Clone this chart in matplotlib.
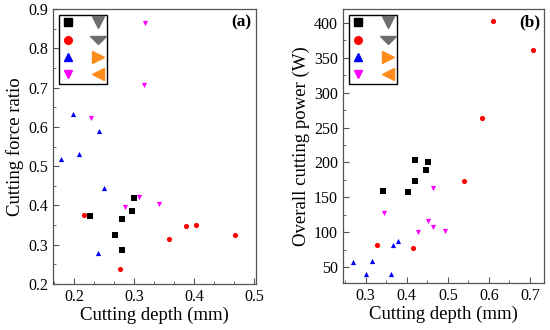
import numpy as np
import matplotlib
matplotlib.use('Agg')
import matplotlib.pyplot as plt
from matplotlib.lines import Line2D
from matplotlib.markers import MarkerStyle
from matplotlib.transforms import Affine2D
from matplotlib.ticker import MultipleLocator, AutoMinorLocator

plt.rcParams['font.family'] = ['Liberation Serif', 'DejaVu Serif']

# (a) cutting force ratio vs cutting depth
a_sq_x = [0.227, 0.279, 0.268, 0.279, 0.296, 0.299]
a_sq_y = [0.374, 0.365, 0.324, 0.287, 0.386, 0.420]
a_ci_x = [0.216, 0.276, 0.358, 0.386, 0.403, 0.468]
a_ci_y = [0.377, 0.239, 0.315, 0.348, 0.350, 0.326]
a_up_x = [0.178, 0.197, 0.207, 0.242, 0.250, 0.239]
a_up_y = [0.518, 0.632, 0.530, 0.589, 0.444, 0.279]
a_dn_x = [0.318, 0.316, 0.228, 0.308, 0.284, 0.342]
a_dn_y = [0.863, 0.707, 0.622, 0.422, 0.397, 0.405]

# (b) overall cutting power vs cutting depth
b_sq_x = [0.342, 0.404, 0.421, 0.420, 0.446, 0.451]
b_sq_y = [159, 158, 173, 204, 189, 201]
b_ci_x = [0.327, 0.416, 0.540, 0.582, 0.610, 0.707]
b_ci_y = [81, 77, 174, 263, 402, 361]
b_up_x = [0.270, 0.301, 0.316, 0.362, 0.366, 0.378]
b_up_y = [57, 40, 59, 40, 81, 87]
b_dn_x = [0.344, 0.428, 0.452, 0.464, 0.463, 0.494]
b_dn_y = [127, 101, 116, 108, 164, 102]

fig = plt.figure(figsize=(5.5, 3.3), dpi=100)
ax_a = fig.add_axes([0.0964, 0.139, 0.369, 0.834])
ax_b = fig.add_axes([0.623, 0.142, 0.366, 0.831])

styles = [('s', 'black'), ('o', 'red'), ('^', 'blue'), ('v', 'magenta')]


def legend_handles():
    flat_v = MarkerStyle('v', transform=Affine2D().scale(1.35, 0.6))
    left = [Line2D([], [], ls='none', marker=m, color=c, markersize=5.5) for m, c in styles]
    right = [
        Line2D([], [], ls='none', marker='v', color='#6e6e6e', markersize=8.5),
        Line2D([], [], ls='none', marker=flat_v, color='#6e6e6e', markersize=8.5),
        Line2D([], [], ls='none', marker='>', color='#ff8c1a', markersize=8.5),
        Line2D([], [], ls='none', marker='<', color='#ff8c1a', markersize=8.5),
    ]
    return left + right


def style_axes(ax, tag):
    for s in ax.spines.values():
        s.set_color('#555555')
        s.set_linewidth(0.9)
    ax.tick_params(which='both', direction='in', top=False, right=False,
                   labelsize=11.5, color='#555555')
    ax.tick_params(which='major', length=4)
    ax.tick_params(which='minor', length=2)
    leg = ax.legend(legend_handles(), [''] * 8, ncol=2, loc='upper left',
                    bbox_to_anchor=(0.03, 0.978), frameon=True, fancybox=False,
                    framealpha=1, edgecolor='black', fontsize=8,
                    handlelength=1.0, handletextpad=0.0, columnspacing=1.7,
                    labelspacing=0.68, borderpad=0.32, borderaxespad=0)
    leg.get_frame().set_linewidth(1.0)
    ax.text(0.93, 0.95, tag, transform=ax.transAxes, ha='center', va='center',
            fontsize=12.5, fontweight='bold')


pts = 14
for xs, ys, (m, c) in zip([a_sq_x, a_ci_x, a_up_x, a_dn_x],
                          [a_sq_y, a_ci_y, a_up_y, a_dn_y], styles):
    ax_a.scatter(xs, ys, marker=m, color=c, s=pts, linewidths=0, zorder=3)
ax_a.set_xlim(0.1645, 0.503)
ax_a.set_ylim(0.2, 0.9)
ax_a.xaxis.set_major_locator(MultipleLocator(0.1))
ax_a.xaxis.set_minor_locator(AutoMinorLocator(3))
ax_a.yaxis.set_major_locator(MultipleLocator(0.1))
ax_a.yaxis.set_minor_locator(AutoMinorLocator(2))
ax_a.set_xlabel('Cutting depth (mm)', fontsize=13.5, labelpad=1)
ax_a.set_ylabel('Cutting force ratio', fontsize=13.5, labelpad=3)
style_axes(ax_a, '(a)')

for xs, ys, (m, c) in zip([b_sq_x, b_ci_x, b_up_x, b_dn_x],
                          [b_sq_y, b_ci_y, b_up_y, b_dn_y], styles):
    ax_b.scatter(xs, ys, marker=m, color=c, s=pts, linewidths=0, zorder=3)
ax_b.set_xlim(0.244, 0.734)
ax_b.set_ylim(27, 420)
ax_b.xaxis.set_major_locator(MultipleLocator(0.1))
ax_b.xaxis.set_minor_locator(AutoMinorLocator(2))
ax_b.yaxis.set_major_locator(MultipleLocator(50))
ax_b.yaxis.set_minor_locator(AutoMinorLocator(2))
ax_b.set_xlabel('Cutting depth (mm)', fontsize=13.5, labelpad=1)
ax_b.set_ylabel('Overall cutting power (W)', fontsize=13.5, labelpad=3)
style_axes(ax_b, '(b)')

fig.savefig('out.png', dpi=100)
